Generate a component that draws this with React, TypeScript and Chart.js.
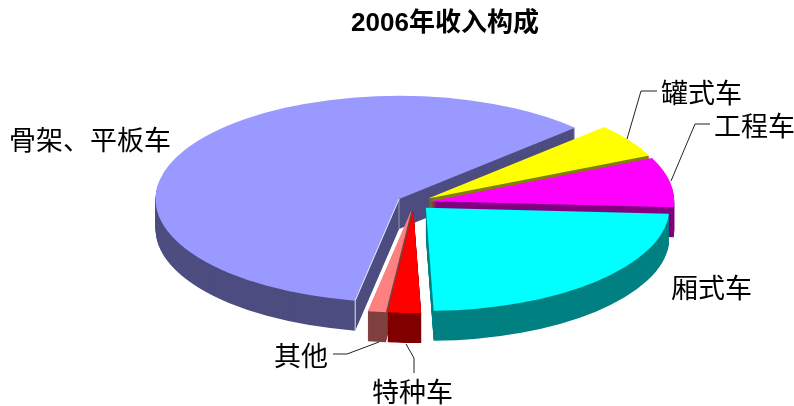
import React, { useEffect, useRef } from "react";
import { Chart, registerables } from "chart.js";

Chart.register(...registerables);

const TITLE = "2006年收入构成";
const categories = ["罐式车", "工程车", "厢式车", "特种车", "其他", "骨架、平板车"];
const values = [5.3, 7.8, 23.6, 2.2, 1.2, 60.1];
const topColors = ["#FFFF00", "#FF00FF", "#00FFFF", "#FF0000", "#FF8080", "#9999FF"];
const wallColors = ["#808000", "#800080", "#008080", "#800000", "#804040", "#4D4D80"];
const paintOrder = [5, 0, 1, 2, 4, 3];

const labelAnchors = [
  [661, 93],
  [714, 126],
  [671, 288],
  [372, 392],
  [274, 356],
  [9, 140],
];
const leaderLines = [
  [[627, 139], [641, 91], [657, 91]],
  [[671, 181], [695, 124], [710, 124]],
  null,
  [[406, 344], [414, 358], [414, 373]],
  [[333, 354], [347, 354], [379, 342]],
  null,
];

const CENTER_X = 414;
const CENTER_Y = 202.5;
const SQUASH = 0.424;
const EXPLODE = 17;
const DEPTH = 30;
const RADIUS = 243.5;

const pie3d = {
  id: "pie3d",
  beforeDatasetDraw(chart: any) {
    const ctx = chart.ctx;
    const arcs = chart.getDatasetMeta(0).data;
    for (const i of paintOrder) {
      const el = arcs[i];
      const original = el.options;
      const mid = (el.startAngle + el.endAngle) / 2;
      const paint = (lift: number) => {
        ctx.save();
        ctx.translate(CENTER_X, CENTER_Y + lift);
        ctx.scale(1, SQUASH);
        ctx.translate(Math.cos(mid) * EXPLODE - el.x, Math.sin(mid) * EXPLODE - el.y);
        el.draw(ctx);
        ctx.restore();
      };
      const wall = Object.create(original);
      wall.backgroundColor = wallColors[i];
      wall.borderColor = wallColors[i];
      el.options = wall;
      for (let d = DEPTH; d >= 1; d--) paint(d);
      el.options = original;
      paint(0);

      if (i === 5) {
        // pale highlight along the large slice's front edge
        const ax = CENTER_X + Math.cos(mid) * EXPLODE;
        const ay = CENTER_Y + Math.sin(mid) * EXPLODE * SQUASH;
        const cx = ax + Math.cos(el.startAngle) * el.outerRadius;
        const cy = ay + Math.sin(el.startAngle) * el.outerRadius * SQUASH;
        ctx.save();
        ctx.strokeStyle = "rgba(255,255,255,0.85)";
        ctx.lineWidth = 1;
        ctx.beginPath();
        ctx.moveTo(ax, ay);
        ctx.lineTo(cx, cy);
        ctx.lineTo(cx, cy + DEPTH);
        ctx.stroke();
        ctx.strokeStyle = "rgba(255,255,255,0.4)";
        ctx.beginPath();
        ctx.moveTo(ax, ay);
        ctx.lineTo(ax, ay + DEPTH);
        ctx.stroke();
        ctx.restore();
      }
    }
    return false;
  },
  afterDraw(chart: any) {
    const ctx = chart.ctx;
    ctx.save();
    ctx.strokeStyle = "#222222";
    ctx.lineWidth = 1;
    for (const line of leaderLines) {
      if (!line) continue;
      ctx.beginPath();
      line.forEach(([x, y], k) => (k ? ctx.lineTo(x, y) : ctx.moveTo(x, y)));
      ctx.stroke();
    }
    ctx.fillStyle = "#000000";
    ctx.font = '27px "Noto Sans CJK SC"';
    ctx.textBaseline = "middle";
    ctx.textAlign = "left";
    categories.forEach((name, i) => {
      ctx.fillText(name, labelAnchors[i][0], labelAnchors[i][1]);
    });
    ctx.restore();
  },
};

export default function App() {
  const ref = useRef<HTMLCanvasElement>(null);
  useEffect(() => {
    const chart = new Chart(ref.current!, {
      type: "pie",
      plugins: [pie3d],
      data: {
        labels: categories,
        datasets: [
          {
            data: values,
            backgroundColor: topColors,
            borderWidth: 0,
            clip: false,
          } as any,
        ],
      },
      options: {
        animation: false,
        responsive: false,
        rotation: 46.3,
        radius: RADIUS,
        layout: { padding: { left: 96 } },
        plugins: {
          legend: { display: false },
          tooltip: { enabled: false },
          title: {
            display: true,
            text: TITLE,
            fullSize: false,
            color: "#000000",
            font: { family: '"Liberation Sans", "Noto Sans CJK SC"', size: 26, weight: "bold" },
            padding: { top: 8, bottom: 8 },
          },
        },
      } as any,
    });
    return () => chart.destroy();
  }, []);
  return (
    <div style={{ position: "absolute", left: 0, top: 0, width: 794, height: 406, background: "#ffffff" }}>
      <canvas ref={ref} width={794} height={406} style={{ display: "block" }} />
    </div>
  );
}
